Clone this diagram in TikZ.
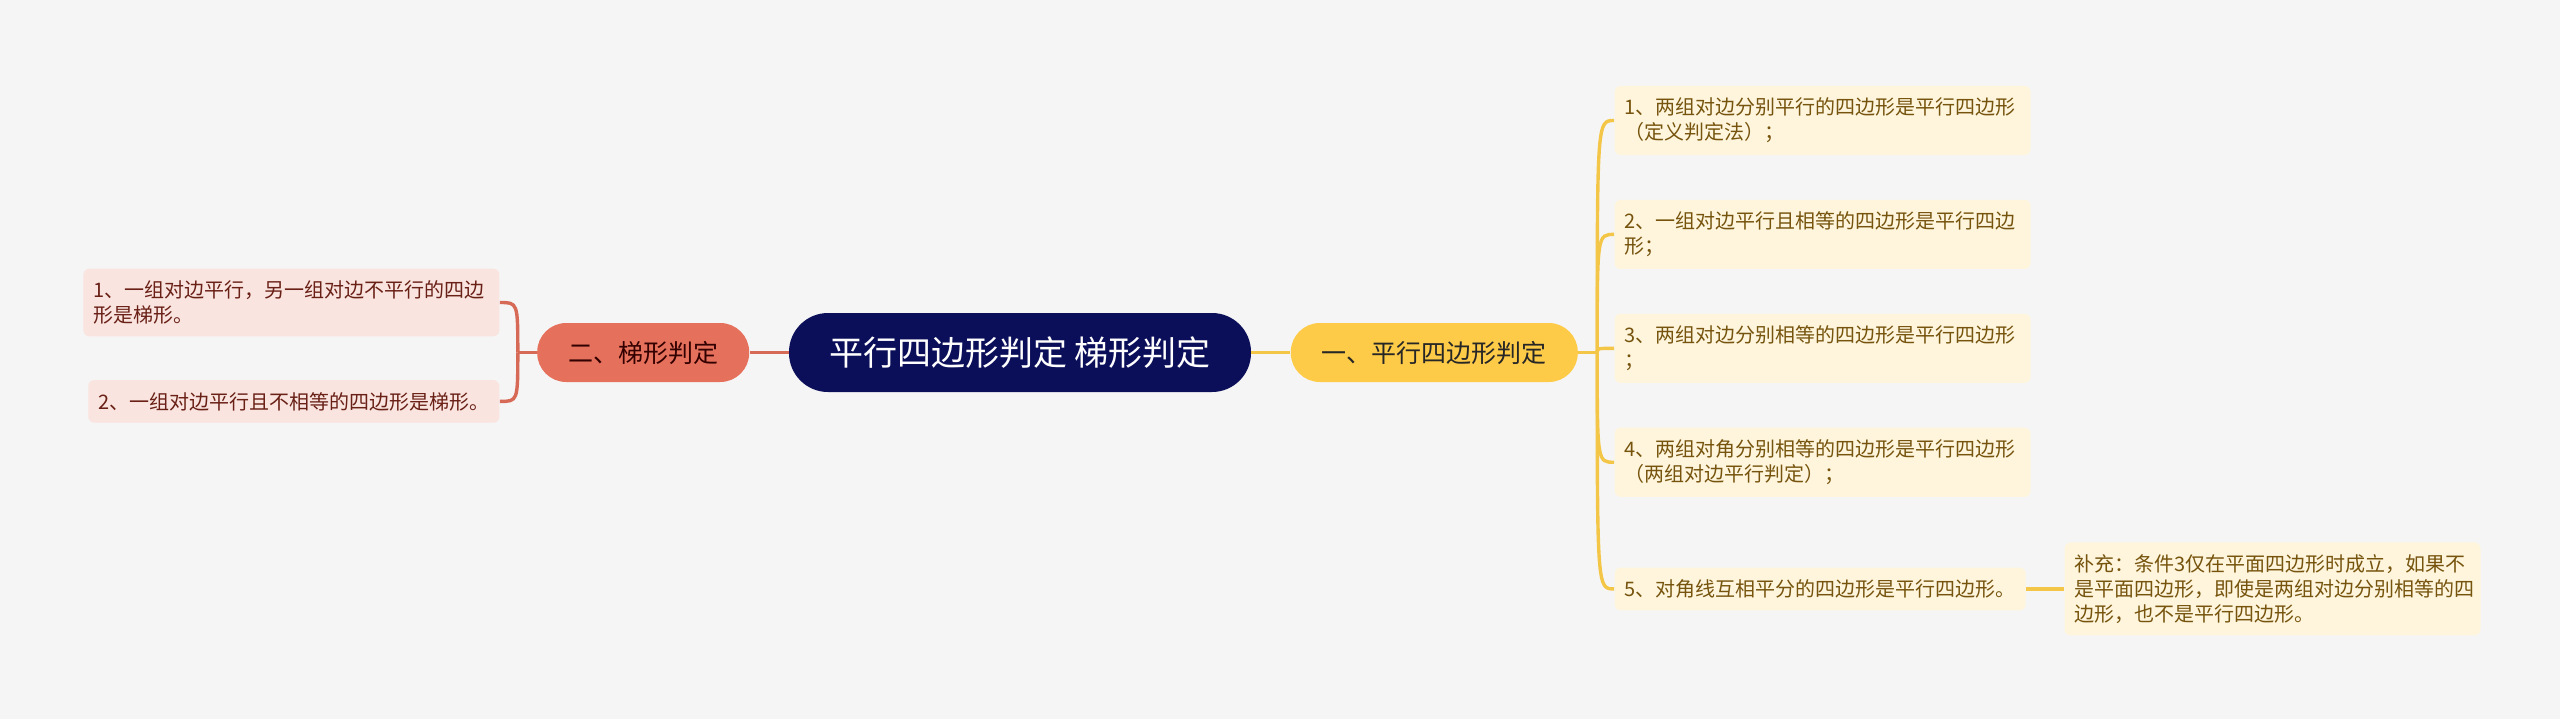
\documentclass[tikz,border=0pt]{standalone}
\usepackage{fontspec}
\setmainfont{Noto Sans CJK SC}
\usetikzlibrary{positioning}
\definecolor{bgc}{RGB}{245,245,245}
\definecolor{navy}{RGB}{11,14,88}
\definecolor{gold}{RGB}{254,203,72}
\definecolor{goldline}{RGB}{244,198,72}
\definecolor{cream}{RGB}{254,245,220}
\definecolor{brownish}{RGB}{118,84,14}
\definecolor{salmon}{RGB}{229,113,92}
\definecolor{salmonline}{RGB}{215,106,86}
\definecolor{pinkish}{RGB}{250,228,223}
\definecolor{maroon}{RGB}{105,32,22}
\tikzset{
	yl/.style={draw=goldline, line width=1.7pt},
	rl/.style={draw=salmonline, line width=1.7pt}
}

\begin{document}
\begin{tikzpicture}[
				box/.style={
					rectangle,
					align=left,
					inner xsep=5pt,
					inner ysep=6pt,
					rounded corners=3pt,
					font=\fontsize{10pt}{12.5pt}\selectfont
				},
				ybox/.style={box, fill=cream, text=brownish},
				rbox/.style={box, fill=pinkish, text=maroon},
				wide/.style={text width=198pt},
				topic/.style={
					rectangle,
					fill=navy,
					text=white,
					rounded corners=19.5pt,
					minimum width=231pt,
					minimum height=39.5pt,
					font=\fontsize{17pt}{20pt}\selectfont
				},
				sub/.style={
					rectangle,
					rounded corners=14.5pt,
					inner xsep=15.5pt,
					minimum height=29.5pt,
					font=\fontsize{12.5pt}{15pt}\selectfont
				}
				]
				
				\fill[bgc] (0,0) rectangle (1280pt,-359.5pt);
				\useasboundingbox (0,0) rectangle (1280pt,-359.5pt);
				
				\node[topic] (root) at (510pt,-176.25pt) {平行四边形判定 梯形判定};
				\node[sub, fill=gold, text=black!85, right=19.5pt of root] (yel) {一、平行四边形判定};
				\node[sub, fill=salmon, text=black!80!red, left=19.5pt of root] (red) {二、梯形判定};
				
				\node[ybox, wide, right=18pt of yel, yshift=116pt] (r1) {1、两组对边分别平行的四边形是平行四边形\\（定义判定法）；};
				\node[ybox, wide, below=22pt of r1.south west, anchor=north west] (r2) {2、一组对边平行且相等的四边形是平行四边\\形；};
				\node[ybox, wide, below=22pt of r2.south west, anchor=north west] (r3) {3、两组对边分别相等的四边形是平行四边形\\；};
				\node[ybox, wide, below=22pt of r3.south west, anchor=north west] (r4) {4、两组对角分别相等的四边形是平行四边形\\（两组对边平行判定）；};
				\node[ybox, below=35pt of r4.south west, anchor=north west] (r5) {5、对角线互相平分的四边形是平行四边形。};
				\node[ybox, wide, right=19pt of r5] (r6) {补充：条件3仅在平面四边形时成立，如果不\\是平面四边形，即使是两组对边分别相等的四\\边形，也不是平行四边形。};
				
				\node[rbox, wide, left=18.5pt of red, yshift=25pt] (l1) {1、一组对边平行，另一组对边不平行的四边\\形是梯形。};
				\node[rbox, below=21.5pt of l1.south east, anchor=north east] (l2) {2、一组对边平行且不相等的四边形是梯形。};
				
				\coordinate[right=9.5pt of yel] (yfork);
				\coordinate[left=9.5pt of red] (rfork);
				
				\draw[yl] (root.east) -- (yel.west);
				\draw[yl] (yel.east) -- (yfork);
				\foreach \n in {r1,r2,r3,r4,r5}
					\draw[yl] (yfork) .. controls (yfork |- \n.west) .. (\n.west);
				\draw[yl] (r5.east) -- (r6.west);
				
				\draw[rl] (root.west) -- (red.east);
				\draw[rl] (red.west) -- (rfork);
				\foreach \n in {l1,l2}
					\draw[rl] (rfork) .. controls (rfork |- \n.east) .. (\n.east);
				
			\end{tikzpicture}
\end{document}
